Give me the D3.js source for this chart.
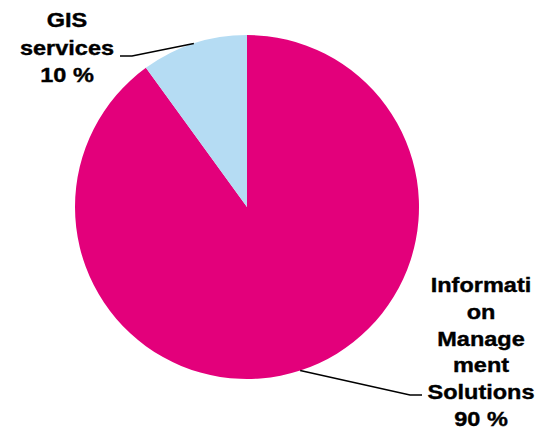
<!DOCTYPE html>
<html><head><meta charset="utf-8">
<script src="https://cdn.jsdelivr.net/npm/d3@7"></script>
<style>html,body{margin:0;padding:0;background:#fff;}svg{display:block;}</style>
</head><body>
<svg id="c" width="539" height="428"></svg>
<script>
const categories = ["Information Management Solutions", "GIS services"];
const values = [90, 10];
const labelLines = [["Informati", "on", "Manage", "ment", "Solutions", "90 %"], ["GIS", "services", "10 %"]];
const colors = ["#e3007b", "#b5dcf3"];

const svg = d3.select("#c");
const cx = 247, cy = 207, r = 172;
const g = svg.append("g").attr("transform", `translate(${cx},${cy})`);
const pie = d3.pie().sort(null).value(d => d)(values);
const arc = d3.arc().innerRadius(0).outerRadius(r);
g.selectAll("path.s").data(pie).enter().append("path")
  .attr("class", "s").attr("d", arc).attr("fill", (d, i) => colors[i]);

const lab = [
  {x: 481, y: 292, lh: 26.8, elbow: [410, 395], end: [422, 395]},
  {x: 67, y: 27.5, lh: 27.5, elbow: [132, 56], end: [120, 56]}
];
pie.forEach((d, i) => {
  const a = (d.startAngle + d.endAngle) / 2;
  const p0 = [cx + r * Math.sin(a), cy - r * Math.cos(a)];
  const L = lab[i];
  svg.append("polyline")
    .attr("points", [p0, L.elbow, L.end].map(p => p.join(",")).join(" "))
    .attr("fill", "none").attr("stroke", "#000").attr("stroke-width", 1.5);
  const tg = svg.append("g").attr("transform", `translate(${L.x},0) scale(1.12,1)`);
  labelLines[i].forEach((t, j) => {
    tg.append("text").attr("x", 0).attr("y", L.y + j * L.lh)
      .attr("text-anchor", "middle")
      .attr("font-family", "'Liberation Sans', Arial, sans-serif")
      .attr("font-weight", "bold").attr("font-size", 21)
      .attr("fill", "#000").attr("stroke", "#000").attr("stroke-width", 0.4)
      .text(t);
  });
});
</script>
</body></html>
